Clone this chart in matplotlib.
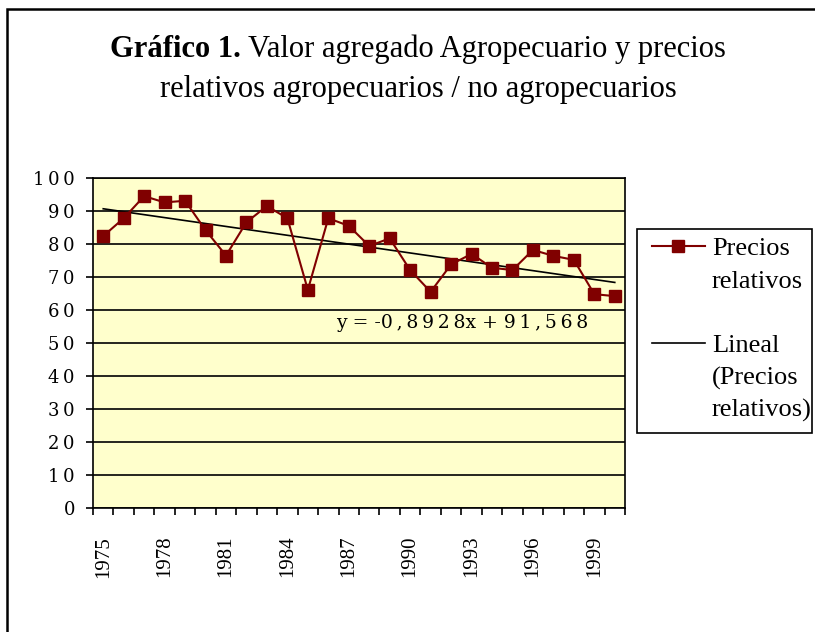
import matplotlib
matplotlib.use("Agg")
import matplotlib.pyplot as plt
import numpy as np
from matplotlib.lines import Line2D
from matplotlib.patches import Rectangle

years = list(range(1975, 2001))
precios = [82.4, 87.8, 94.5, 92.6, 93.1, 84.2, 76.5, 86.6, 91.5, 87.8,
           66.1, 87.8, 85.5, 79.4, 81.7, 72.1, 65.5, 73.8, 77.0, 72.8,
           72.1, 78.2, 76.4, 75.2, 64.8, 64.2]
slope, intercept = -0.8928, 91.568
ytick_vals = list(range(0, 101, 10))
ytick_labels = ["\u2009".join(str(v)) for v in ytick_vals]
year_labels = [str(y) for y in years[::3]]

W, H = 815, 632
fig = plt.figure(figsize=(W / 100, H / 100), dpi=100)
fig.patch.set_facecolor("white")

# outer frame
fig.patches.append(Rectangle((7 / W, -0.1), 1.5, 1 - 9 / H + 0.1, transform=fig.transFigure,
                             fill=False, edgecolor="black", linewidth=1.8, zorder=0))

left, right, top, bottom = 93, 625, 178, 508
ax = fig.add_axes([left / W, 1 - bottom / H, (right - left) / W, (bottom - top) / H])
ax.set_facecolor("#FFFFCC")

x = np.arange(len(years))
ax.set_xlim(-0.5, len(years) - 0.5)
ax.set_ylim(0, 100)

for v in ytick_vals:
    ax.axhline(v, color="black", linewidth=1.2, zorder=1)

trend_x = np.array([1, len(years)])
ax.plot(trend_x - 1, slope * trend_x + intercept, color="black", linewidth=1.2, zorder=3)
ax.plot(x, precios, color="#800000", linewidth=1.5, marker="s", markersize=8,
        markerfacecolor="#800000", markeredgecolor="#800000", zorder=4)

ax.set_yticks(ytick_vals)
ax.set_yticklabels(ytick_labels, fontfamily="DejaVu Serif", fontsize=13)
ax.tick_params(axis="y", length=5, width=1.2, direction="out", pad=8)

ax.set_xticks(np.arange(-0.5, len(years)), minor=False)
ax.set_xticklabels([])
ax.tick_params(axis="x", which="major", length=5, width=1.2, direction="out")
ax.set_xticks(x[::3], minor=True)
ax.set_xticklabels(year_labels, minor=True, rotation=90, fontfamily="Liberation Serif",
                   fontsize=15)
ax.tick_params(axis="x", which="minor", length=0, pad=20)

for s in ax.spines.values():
    s.set_color("black")
    s.set_linewidth(1.2)

eq = "y = -" + "\u2009".join("0,8928") + "x + " + "\u2009".join("91,568")
ax.text((462 - left) / (right - left), 56 / 100, eq, transform=ax.transAxes,
        ha="center", va="center", fontfamily="DejaVu Serif", fontsize=13.5)

# title
cx = 418 / W
t1 = fig.text(0, 1 - 57 / H, "Gráfico 1.", fontfamily="Liberation Serif", fontsize=22,
              fontweight="bold", va="baseline", ha="left")
t2 = fig.text(0, 1 - 57 / H, "Valor agregado Agropecuario y precios",
              fontfamily="Liberation Serif", fontsize=22, va="baseline", ha="left")
r = fig.canvas.get_renderer()
w1 = t1.get_window_extent(r).width
w2 = t2.get_window_extent(r).width
gap = 0.25 * 22 * 100 / 72
start = cx * W - (w1 + gap + w2) / 2
t1.set_x(start / W)
t2.set_x((start + w1 + gap) / W)
fig.text(cx, 1 - 97 / H, "relativos agropecuarios / no agropecuarios",
         fontfamily="Liberation Serif", fontsize=22, va="baseline", ha="center")

# legend
fig.patches.append(Rectangle((637 / W, 1 - 433 / H), (812 - 637) / W, (433 - 229) / H,
                             transform=fig.transFigure, facecolor="white",
                             edgecolor="black", linewidth=1.2, zorder=1))
blank = Line2D([], [], linestyle="none")
handles = [Line2D([], [], color="#800000", linewidth=1.5, marker="s", markersize=8),
           blank, blank,
           Line2D([], [], color="black", linewidth=1.2),
           blank, blank]
labels = ["Precios", "relativos", "", "Lineal", "(Precios", "relativos)"]
fs = 19
leg = fig.legend(handles, labels, loc="upper left",
                 bbox_to_anchor=(644 / W, 1 - 229 / H),
                 bbox_transform=fig.transFigure, prop={"family": "Liberation Serif", "size": fs},
                 frameon=False, handlelength=2.0, handletextpad=0.27, labelspacing=0.33,
                 borderpad=0.3, borderaxespad=0, numpoints=1)
leg.set_zorder(2)

fig.savefig("out.png", dpi=100)
